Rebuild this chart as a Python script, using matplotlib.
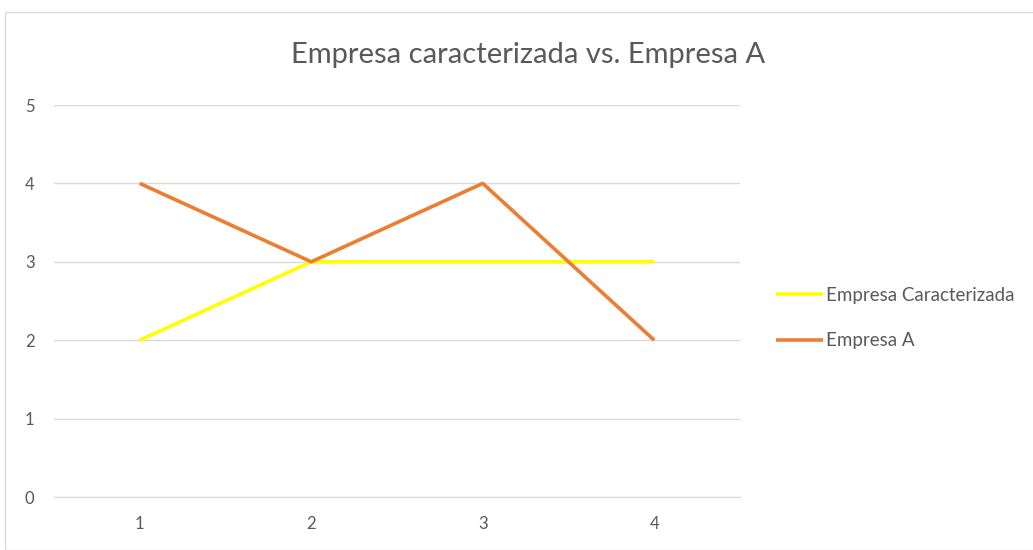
import matplotlib
matplotlib.use("Agg")
import matplotlib.pyplot as plt
from matplotlib.patches import Rectangle

categories = ["1", "2", "3", "4"]
empresa_caracterizada = [2, 3, 3, 3]
empresa_a = [4, 3, 4, 2]
yticks = [0, 1, 2, 3, 4, 5]

plt.rcParams['font.family'] = ['Lato', 'DejaVu Sans']

W, H = 1033, 550
fig = plt.figure(figsize=(W/100, H/100), dpi=100)
fig.patches.append(Rectangle((5/W, 0), 1.2, 1 - 12/H, transform=fig.transFigure,
                             fill=False, edgecolor='#d9d9d9', linewidth=1.0))

ax = fig.add_axes([54/W, (H-497)/H, (740-54)/W, (497-105)/H])
x = list(range(1, len(categories) + 1))
ax.plot(x, empresa_caracterizada, color='#FFFF00', linewidth=2.6, label='Empresa Caracterizada', solid_capstyle='butt')
ax.plot(x, empresa_a, color='#ED7D31', linewidth=2.6, label='Empresa A', solid_capstyle='butt')

ax.set_xlim(0.5, 4.5)
ax.set_ylim(0, 5)
ax.set_xticks(x)
ax.set_xticklabels(categories)
ax.set_yticks(yticks)
ax.grid(axis='y', color='#d9d9d9', linewidth=1.0)
ax.set_axisbelow(True)
for s in ['top', 'right', 'left']:
    ax.spines[s].set_visible(False)
ax.spines['bottom'].set_color('#d9d9d9')
ax.tick_params(axis='both', length=0, colors='#595959', labelsize=12)
ax.tick_params(axis='y', pad=14)
ax.tick_params(axis='x', pad=14)

fig.text(528/W, 1 - 55/H, 'Empresa caracterizada vs. Empresa A', ha='center', va='center',
         fontsize=21, color='#595959')

leg = ax.legend(loc='center left', bbox_to_anchor=(759/W, 1 - 318/H), bbox_transform=fig.transFigure,
                frameon=False, fontsize=13.5, labelcolor='#595959', handlelength=2.5,
                handletextpad=0.15, labelspacing=1.5)

fig.savefig('out.png', dpi=100)
